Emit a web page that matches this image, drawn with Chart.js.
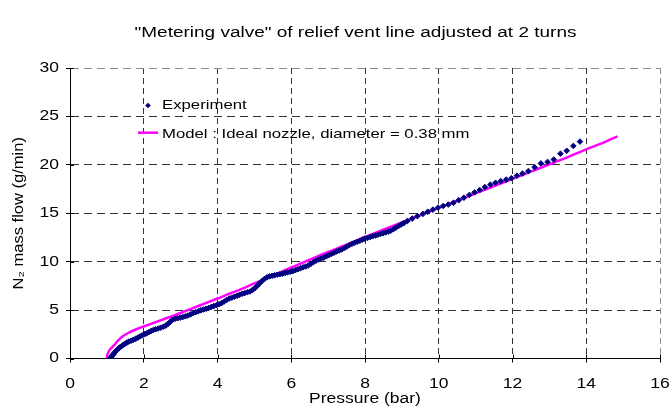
<!DOCTYPE html>
<html><head><meta charset="utf-8">
<script src="https://cdn.jsdelivr.net/npm/chart.js@4"></script>
<style>html,body{margin:0;padding:0;background:#fff;} canvas{display:block;}</style>
</head><body>
<canvas id="c" width="669" height="410"></canvas>
<script>
const titleText = '"Metering valve" of relief vent line adjusted at 2 turns';
const xAxisTitle = 'Pressure (bar)';
const yAxisTitle = 'N\u2082 mass flow (g/min)';
const seriesNames = ['Experiment', 'Model : Ideal nozzle, diameter = 0.38 mm'];
const xTickValues = [0, 2, 4, 6, 8, 10, 12, 14, 16];
const yTickValues = [0, 5, 10, 15, 20, 25, 30];

const expP = [1.09,1.11,1.13,1.15,1.18,1.21,1.24,1.27,1.30,1.33,1.36,1.40,1.45,1.50,1.55,1.60,1.66,1.72,1.78,1.84,1.90,1.96,2.02,2.08,2.14,2.20,2.26,2.32,2.39,2.46,2.53,2.60,2.66,2.72,2.78,2.85,2.92,2.99,3.06,3.13,3.20,3.27,3.34,3.41,3.48,3.55,3.62,3.69,3.76,3.83,3.90,3.97,4.04,4.11,4.18,4.25,4.32,4.39,4.46,4.53,4.60,4.67,4.74,4.81,4.88,4.95,5.02,5.08,5.14,5.20,5.27,5.34,5.41,5.48,5.55,5.62,5.69,5.76,5.83,5.90,5.97,6.04,6.11,6.18,6.25,6.32,6.39,6.46,6.53,6.60,6.67,6.74,6.81,6.88,6.95,7.02,7.09,7.16,7.23,7.30,7.37,7.44,7.51,7.58,7.65,7.72,7.79,7.86,7.93,8.00,8.07,8.14,8.21,8.28,8.35,8.42,8.49,8.56,8.63,8.70,8.77,8.84,8.91,8.98,9.05,
9.15,9.28,9.42,9.57,9.70,9.84,9.98,10.12,10.26,10.40,10.54,10.68,10.83,10.97,11.11,11.25,11.40,11.54,11.68,11.83,11.97,12.12,12.27,12.43,12.60,12.77,12.95,13.12,13.30,13.47,13.65,13.83];
const expF = [0.00,0.10,0.22,0.34,0.46,0.60,0.74,0.86,0.98,1.08,1.17,1.28,1.42,1.54,1.66,1.75,1.84,1.94,2.04,2.16,2.28,2.40,2.50,2.60,2.72,2.84,2.94,3.02,3.10,3.18,3.28,3.40,3.58,3.80,4.00,4.10,4.16,4.22,4.28,4.36,4.44,4.56,4.68,4.78,4.88,4.98,5.06,5.14,5.22,5.32,5.42,5.50,5.60,5.72,5.88,6.05,6.20,6.28,6.38,6.48,6.58,6.68,6.76,6.84,6.92,7.08,7.28,7.52,7.76,7.98,8.20,8.38,8.48,8.54,8.60,8.65,8.70,8.76,8.84,8.90,8.96,9.02,9.12,9.22,9.32,9.42,9.50,9.60,9.78,9.95,10.10,10.22,10.32,10.42,10.55,10.68,10.80,10.92,11.05,11.15,11.26,11.40,11.56,11.72,11.85,11.96,12.06,12.16,12.28,12.38,12.46,12.54,12.62,12.70,12.78,12.86,12.94,13.02,13.10,13.20,13.35,13.52,13.68,13.84,13.98,
14.20,14.45,14.70,14.93,15.15,15.37,15.58,15.75,15.90,16.08,16.35,16.60,16.89,17.15,17.40,17.70,17.95,18.15,18.32,18.47,18.62,18.88,19.10,19.35,19.75,20.15,20.30,20.55,21.15,21.45,21.95,22.40];

const modelP = [1.00,1.01,1.03,1.06,1.10,1.18,1.30,1.45,1.60,1.80,2.00,2.50,3.00,3.50,4.00,4.50,5.00,5.50,6.00,6.50,7.00,7.50,8.00,8.50,9.00,9.50,10.00,10.50,11.00,11.50,12.00,12.50,13.00,13.50,14.00,14.50,14.85];
const modelF = [0.00,0.30,0.55,0.80,1.00,1.30,1.85,2.35,2.68,3.02,3.30,4.00,4.70,5.45,6.20,6.95,7.75,8.55,9.40,10.20,11.00,11.75,12.55,13.30,14.05,14.80,15.55,16.30,17.05,17.80,18.55,19.30,20.05,20.80,21.60,22.35,22.95];

const FONT = "'Liberation Sans', Arial, sans-serif";
const SX = 1.25;      // horizontal stretch of horizontal text in the original picture
const SROT = 1.18;    // stretch along rotated (vertical) text

const canvas = document.getElementById('c');
const ctx = canvas.getContext('2d');
const protoFill = CanvasRenderingContext2D.prototype.fillText;
const protoMeasure = CanvasRenderingContext2D.prototype.measureText;
ctx.fillText = function (t, x, y, mw) {
  const m = this.getTransform();
  const rotated = Math.abs(m.b) > 1e-6 || Math.abs(m.c) > 1e-6;
  const s = rotated ? SROT : SX;
  this.save();
  this.translate(x, y);
  this.scale(s, 1);
  if (mw === undefined) protoFill.call(this, t, 0, 0); else protoFill.call(this, t, 0, 0, mw / s);
  this.restore();
};
ctx.measureText = function (t) {
  const m = protoMeasure.call(this, t);
  return {
    width: m.width * SX,
    actualBoundingBoxAscent: m.actualBoundingBoxAscent,
    actualBoundingBoxDescent: m.actualBoundingBoxDescent,
    actualBoundingBoxLeft: m.actualBoundingBoxLeft * SX,
    actualBoundingBoxRight: m.actualBoundingBoxRight * SX,
    fontBoundingBoxAscent: m.fontBoundingBoxAscent,
    fontBoundingBoxDescent: m.fontBoundingBoxDescent
  };
};

const insideLegend = {
  id: 'insideLegend',
  afterDatasetsDraw(chart) {
    const c = chart.ctx;
    c.save();
    c.fillStyle = '#000080';
    c.beginPath();
    const dx = 148, dy = 105.5, r = 2.8;
    c.moveTo(dx - r, dy); c.lineTo(dx, dy - r); c.lineTo(dx + r, dy); c.lineTo(dx, dy + r); c.closePath();
    c.fill();
    c.strokeStyle = '#FF00FF';
    c.lineWidth = 2.5;
    c.beginPath(); c.moveTo(138, 132.7); c.lineTo(158, 132.7); c.stroke();
    c.fillStyle = '#000';
    c.font = '13.4px ' + FONT;
    c.textAlign = 'left';
    c.textBaseline = 'middle';
    c.fillText(seriesNames[0], 162, 105.5);
    c.fillText(seriesNames[1], 162, 134.5);
    c.restore();
  }
};

const innerTicks = {
  id: 'innerTicks',
  afterDraw(chart) {
    const c = chart.ctx, a = chart.chartArea;
    const xs = chart.scales.x, ys = chart.scales.y;
    c.save();
    c.strokeStyle = '#000';
    c.lineWidth = 1;
    c.beginPath();
    xTickValues.forEach(v => {
      const px = Math.round(xs.getPixelForValue(v)) + 0.5;
      c.moveTo(px, a.bottom); c.lineTo(px, a.bottom - 4);
    });
    yTickValues.forEach(v => {
      const py = Math.round(ys.getPixelForValue(v)) + 0.5;
      c.moveTo(a.left, py); c.lineTo(a.left + 4, py);
    });
    c.stroke();
    c.restore();
  }
};

const titleShift = {
  id: 'titleShift',
  afterLayout(chart) {
    if (chart.titleBlock) { chart.titleBlock.left = 42; chart.titleBlock.right = 669; }
  }
};

const bg = {
  id: 'bg',
  beforeDraw(chart) {
    const c = chart.ctx; c.save(); c.fillStyle = '#fff'; c.fillRect(0, 0, chart.width, chart.height); c.restore();
  }
};

Chart.defaults.font.family = FONT;
Chart.defaults.font.size = 14;
Chart.defaults.color = '#000';

new Chart(ctx, {
  type: 'scatter',
  data: {
    datasets: [
      {
        label: seriesNames[0],
        data: expP.map((p, i) => ({ x: p, y: expF[i] })),
        pointStyle: 'rectRot',
        pointRadius: 2.8,
        pointBorderWidth: 1,
        backgroundColor: '#000080',
        borderColor: '#000080',
        showLine: false
      },
      {
        label: seriesNames[1],
        data: modelP.map((p, i) => ({ x: p, y: modelF[i] })),
        showLine: true,
        pointRadius: 0,
        borderColor: '#FF00FF',
        backgroundColor: '#FF00FF',
        borderWidth: 2.5,
        cubicInterpolationMode: 'monotone'
      }
    ]
  },
  options: {
    responsive: false,
    animation: false,
    devicePixelRatio: 1,
    events: [],
    layout: { padding: { left: 0, right: 9, top: 0, bottom: 0 } },
    plugins: {
      legend: { display: false },
      tooltip: { enabled: false },
      title: {
        display: true,
        text: titleText,
        color: '#000',
        font: { size: 15.2, weight: 'normal', family: FONT, lineHeight: 1.2 },
        padding: { top: 24, bottom: 25.76 }
      }
    },
    scales: {
      x: {
        type: 'linear',
        min: 0, max: 16,
        afterBuildTicks: s => { s.ticks = xTickValues.map(v => ({ value: v })); },
        afterFit: s => { s.height = 51.5; s.paddingLeft = 0; s.paddingRight = 0; },
        ticks: { padding: 13, color: '#000', font: { size: 14 } },
        grid: {
          color: c => (c.tick && c.tick.value === 16) ? '#8c8c8c' : '#333',
          lineWidth: 1,
          tickLength: 4,
          tickColor: '#000',
          tickBorderDash: []
        },
        border: { display: true, color: '#000', width: 1, dash: [6, 4] },
        title: { display: true, text: xAxisTitle, color: '#000', font: { size: 14 }, padding: { top: 0, bottom: 2.6 } }
      },
      y: {
        type: 'linear',
        min: 0, max: 30,
        afterBuildTicks: s => { s.ticks = yTickValues.map(v => ({ value: v })); },
        afterFit: s => { s.width = 70; s.paddingTop = 0; s.paddingBottom = 0; },
        ticks: { padding: 7, color: '#000', font: { size: 14 } },
        grid: {
          color: c => (c.tick && c.tick.value === 30) ? '#8c8c8c' : '#333',
          lineWidth: 1,
          tickLength: 4,
          tickColor: '#000',
          tickBorderDash: []
        },
        border: { display: true, color: '#000', width: 1, dash: [8, 5] },
        title: { display: true, text: yAxisTitle, color: '#000', font: { size: 14 }, padding: { top: 11, bottom: 0 } }
      }
    }
  },
  plugins: [bg, titleShift, innerTicks, insideLegend]
});
</script>
</body></html>
